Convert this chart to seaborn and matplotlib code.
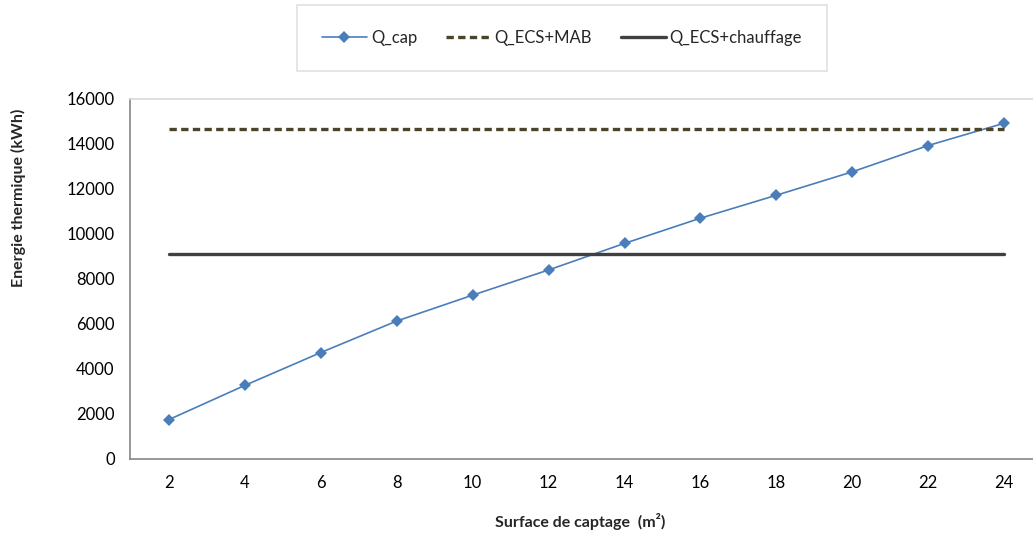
import matplotlib
matplotlib.use("Agg")
import matplotlib.pyplot as plt
import seaborn as sns
import pandas as pd

# Collector area (m²) and yearly thermal energy (kWh)
surface = [2, 4, 6, 8, 10, 12, 14, 16, 18, 20, 22, 24]
q_cap = [1740, 3260, 4720, 6120, 7270, 8390, 9570, 10690, 11710, 12750, 13920, 14910]
q_ecs_mab = 14650
q_ecs_chauffage = 9100

y_ticks = [0, 2000, 4000, 6000, 8000, 10000, 12000, 14000, 16000]

sns.set_theme(style="white")
plt.rcParams["font.family"] = ["Lato", "DejaVu Sans"]

df = pd.DataFrame({
    "surface": surface,
    "Q_cap": q_cap,
    "Q_ECS+MAB": [q_ecs_mab] * len(surface),
    "Q_ECS+chauffage": [q_ecs_chauffage] * len(surface),
})

fig = plt.figure(figsize=(10.33, 5.40), dpi=100)
ax = fig.add_axes([130 / 1033, 1 - 458.7 / 540, 1 - 130 / 1033, (458.7 - 98.7) / 540])

sns.lineplot(data=df, x="surface", y="Q_cap", ax=ax, color="#4A7EBB", lw=1.2,
             marker="D", markersize=6.5, markeredgewidth=0, label="Q_cap")
sns.lineplot(data=df, x="surface", y="Q_ECS+MAB", ax=ax, color="#4A452A", lw=2.4,
             linestyle=(0, (2.2, 1.3)), label="Q_ECS+MAB")
sns.lineplot(data=df, x="surface", y="Q_ECS+chauffage", ax=ax, color="#404040", lw=2.4,
             label="Q_ECS+chauffage")

ax.set_xlim(0.972, 24.76)
ax.set_ylim(0, 16000)
ax.set_xticks(surface)
ax.set_yticks(y_ticks)
ax.tick_params(axis="both", labelsize=12, colors="#868686", labelcolor="black",
               direction="out", length=5, width=1.2)
ax.tick_params(axis="x", pad=7)
ax.tick_params(axis="y", pad=6)

for side in ["left", "bottom"]:
    ax.spines[side].set_color("#868686")
    ax.spines[side].set_linewidth(1.2)
ax.spines["top"].set_color("#D9D9D9")
ax.spines["top"].set_linewidth(1.2)
ax.spines["right"].set_visible(False)

ax.set_xlabel("")
ax.set_ylabel("")
fig.text(18 / 1033, 1 - 198 / 540, "Energie thermique (kWh)", rotation=90,
         ha="center", va="center", fontsize=11.5, fontweight="bold")
fig.text(580 / 1033, 1 - 521 / 540, "Surface de captage  (m²)",
         ha="center", va="center", fontsize=11.5, fontweight="bold")

handles, labels = ax.get_legend_handles_labels()
ax.get_legend().remove()
leg = fig.legend(handles, labels, loc="center", ncol=3,
                 bbox_to_anchor=(562 / 1033, 1 - 37.5 / 540),
                 fontsize=12, frameon=True, fancybox=False, borderpad=1.5,
                 handlelength=2.7, handletextpad=0.25, columnspacing=1.7,
                 borderaxespad=0)
leg.get_frame().set_edgecolor("#D9D9D9")
leg.get_frame().set_linewidth(1.2)

fig.savefig("out.png", dpi=100)
